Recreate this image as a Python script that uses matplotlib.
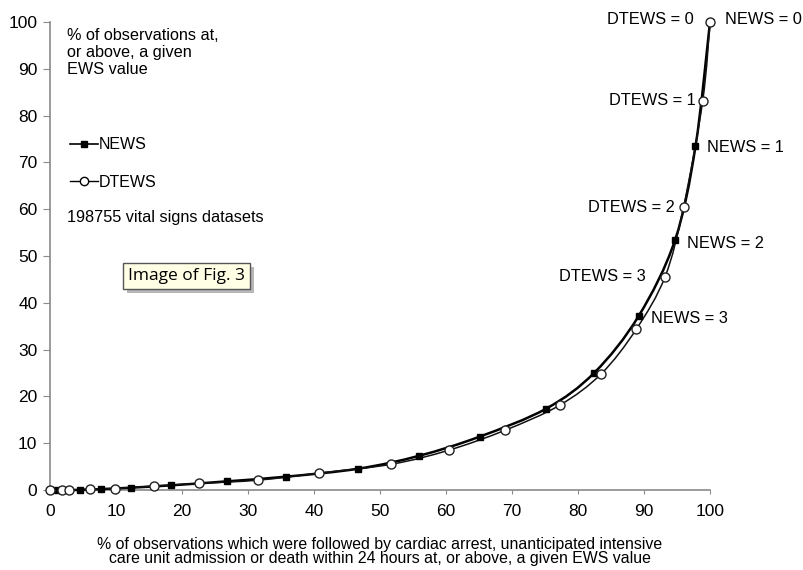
import matplotlib
matplotlib.use('Agg')
from matplotlib import pyplot as plt
from matplotlib.lines import Line2D
from matplotlib.path import Path
from matplotlib.patches import PathPatch
import matplotlib.patheffects as pe

plt.rcParams['font.family'] = ['Liberation Sans', 'DejaVu Sans']

# NEWS (filled markers), x = % of outcomes, y = % of observations
news_x = [0, 1.0, 4.5, 7.8, 12.3, 18.4, 26.8, 35.8, 46.7, 55.9, 65.1, 75.2, 82.5, 89.2, 94.7, 97.8, 100]
news_y = [0, 0.0, 0.0, 0.2, 0.5, 1.0, 1.85, 2.85, 4.55, 7.3, 11.4, 17.4, 25.1, 37.2, 53.4, 73.4, 100]

# DTEWS (open markers)
dtews_x = [0, 1.8, 2.9, 6.0, 9.8, 15.8, 22.6, 31.5, 40.7, 51.7, 60.4, 69.0, 77.2, 83.5, 88.8, 93.2, 96.0, 98.9, 100]
dtews_y = [0, 0.0, 0.0, 0.2, 0.3, 0.85, 1.4, 2.1, 3.6, 5.5, 8.5, 12.8, 18.1, 24.8, 34.3, 45.6, 60.5, 83.2, 100]

# labelled EWS thresholds: (label, series index, pixel offset)
news_labels = [('NEWS = 0', 16, (15, 2)), ('NEWS = 1', 15, (12, -1)),
               ('NEWS = 2', 14, (12, -3)), ('NEWS = 3', 13, (12, -3))]
dtews_labels = [('DTEWS = 0', 18, (-16, 2)), ('DTEWS = 1', 17, (-7, 0)),
                ('DTEWS = 2', 16, (-9, -1)), ('DTEWS = 3', 15, (-19, 0))]


def smooth_path(xs, ys):
    # Excel-style smoothed line: Catmull-Rom segments drawn as cubic Beziers
    pts = list(zip(xs, ys))
    verts = [pts[0]]
    codes = [Path.MOVETO]
    for i in range(len(pts) - 1):
        p0 = pts[max(i - 1, 0)]
        p1, p2 = pts[i], pts[i + 1]
        p3 = pts[min(i + 2, len(pts) - 1)]
        c1 = (p1[0] + (p2[0] - p0[0]) / 6, p1[1] + (p2[1] - p0[1]) / 6)
        c2 = (p2[0] - (p3[0] - p1[0]) / 6, p2[1] - (p3[1] - p1[1]) / 6)
        verts += [c1, c2, p2]
        codes += [Path.CURVE4] * 3
    return Path(verts, codes)


fig = plt.figure(figsize=(8.04, 5.70), dpi=100)
ax = fig.add_axes([50 / 804, 1 - 490 / 570, 660 / 804, 468 / 570])

ax.add_patch(PathPatch(smooth_path(news_x, news_y), fill=False, ec='black', lw=1.8,
                       zorder=3, clip_on=False))
ax.add_patch(PathPatch(smooth_path(dtews_x, dtews_y), fill=False, ec='#111111', lw=1.1,
                       zorder=3, clip_on=False))
ax.plot(news_x, news_y, ls='none', marker='s', ms=4.5,
        mfc='black', mec='black', zorder=4, clip_on=False)
ax.plot(dtews_x, dtews_y, ls='none', marker='o', ms=6.5,
        mfc='white', mec='#222222', mew=1.0, zorder=5, clip_on=False)

ax.set_xlim(0, 100)
ax.set_ylim(0, 100)
ax.set_xticks(range(0, 101, 10))
ax.set_yticks(range(0, 101, 10))
for side in ['top', 'right']:
    ax.spines[side].set_visible(False)
for side in ['left', 'bottom']:
    ax.spines[side].set_color('#8a8a8a')
    ax.spines[side].set_linewidth(1.2)
ax.tick_params(axis='y', direction='out', length=5, color='#8a8a8a', labelsize=12.5, pad=4)
ax.tick_params(axis='x', direction='out', length=3, color='#8a8a8a', labelsize=12.5, pad=7)

ax.set_xlabel('% of observations which were followed by cardiac arrest, unanticipated intensive\n'
              'care unit admission or death within 24 hours at, or above, a given EWS value',
              fontsize=11.4, labelpad=13, linespacing=0.95)

for label, i, off in news_labels:
    ax.annotate(label, (news_x[i], news_y[i]), xytext=off, textcoords='offset pixels',
                ha='left', va='center', fontsize=11.8)
for label, i, off in dtews_labels:
    ax.annotate(label, (dtews_x[i], dtews_y[i]), xytext=off, textcoords='offset pixels',
                ha='right', va='center', fontsize=11.8)

ax.text(17 / 660, 1 - 6 / 468, '% of observations at,\nor above, a given\nEWS value',
        transform=ax.transAxes, ha='left', va='top', fontsize=11.7, linespacing=1.15)
ax.text(17 / 660, 1 - 195 / 468, '198755 vital signs datasets',
        transform=ax.transAxes, ha='left', va='center', fontsize=11.7)

handles = [Line2D([], [], color='black', lw=1.2, marker='s', ms=4, mfc='black'),
           Line2D([], [], color='black', lw=1.0, marker='o', ms=6, mfc='white')]
ax.legend(handles, ['NEWS', 'DTEWS'], loc='upper left', bbox_to_anchor=(6 / 660, 1 - 101 / 468),
          frameon=False, handlelength=1.7, handletextpad=0.1, labelspacing=1.4, fontsize=11.5)

ax.text(78 / 660, 1 - 254 / 468, 'Image of Fig. 3', transform=ax.transAxes,
        ha='left', va='center', fontsize=12.5, family=['Open Sans', 'DejaVu Sans'],
        bbox=dict(boxstyle='square,pad=0.3', fc='#ffffe6', ec='#555555', lw=1.0,
                  path_effects=[pe.withSimplePatchShadow(offset=(3, -3), shadow_rgbFace='#888888', alpha=0.6)]))

plt.savefig('out.png', dpi=100)
